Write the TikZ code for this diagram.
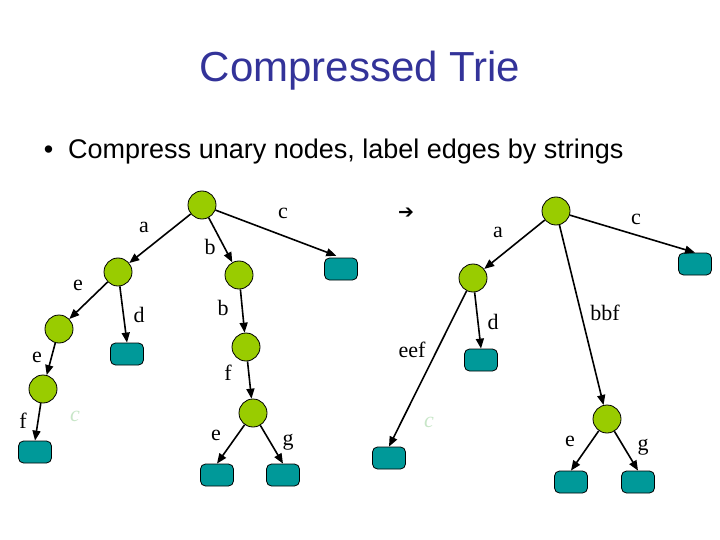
\documentclass[tikz,border=0pt]{standalone}
\usepackage{fontspec}
\setmainfont{Liberation Serif}
\newfontfamily\slidefont{Liberation Sans}
\newfontfamily\symfont{DejaVu Sans}
\usetikzlibrary{arrows.meta}

\definecolor{titleblue}{RGB}{51,51,153}
\definecolor{nodegreen}{RGB}{153,204,0}
\definecolor{leafteal}{RGB}{0,153,153}
\definecolor{palegreen}{RGB}{200,230,200}

\tikzset{
  inner/.style={draw, circle, fill=nodegreen, minimum size=28pt, inner sep=0pt, line width=0.8pt},
  leaf/.style={draw, rectangle, rounded corners=5pt, fill=leafteal, minimum width=33pt, minimum height=22pt, inner sep=0pt, line width=0.8pt},
  lab/.style={inner sep=0pt, font=\fontsize{22}{22}\selectfont},
  ghost/.style={lab, text=palegreen, font=\fontsize{22}{22}\selectfont\itshape},
}

\begin{document}
\begin{tikzpicture}[x=1pt,y=-1pt, >={Triangle[length=10pt,width=8pt]}, line width=1.6pt]
\useasboundingbox (0,0) rectangle (720,540);

\node[text=titleblue, font=\slidefont\fontsize{42}{42}\selectfont] (title) at (360,71) {Compressed Trie};
\node[anchor=base west, inner sep=0pt, font=\slidefont\fontsize{27}{27}\selectfont] (point) at (43,159) {\textbullet\hskip 15pt Compress unary nodes, label edges by strings};

% uncompressed trie
\node[inner] (r1) at (202,205) {};
\node[inner] (n1a) at (118,272) {};
\node[inner] (n1b) at (239,275) {};
\node[leaf] (l1c) at (341,269) {};
\node[inner] (n1ae) at (59,329) {};
\node[leaf] (l1ad) at (127,354) {};
\node[inner] (n1bb) at (246,347) {};
\node[inner] (n1aee) at (43,389) {};
\node[leaf] (l1f) at (35,452) {};
\node[inner] (n1bbf) at (253,413) {};
\node[leaf] (l1e) at (217,475) {};
\node[leaf] (l1g) at (283,475) {};

\draw[->] (r1) -- (n1a);
\draw[->] (r1) -- (n1b);
\draw[->, shorten >=5pt] (r1) -- (l1c.north);
\draw[->] (n1a) -- (n1ae);
\draw[->] (n1a) -- (l1ad.north);
\draw[->] (n1b) -- (n1bb);
\draw[->] (n1ae) -- (n1aee);
\draw[->] (n1aee) -- (l1f.north);
\draw[->] (n1bb) -- (n1bbf);
\draw[->] (n1bbf) -- (l1e.north);
\draw[->] (n1bbf) -- (l1g.north);

\node[lab] (t1a) at (144,227) {a};
\node[lab] (t1c) at (283,213) {c};
\node[lab] (t1b) at (210,247) {b};
\node[lab] (t1e) at (78,285) {e};
\node[lab] (t1d) at (139,315) {d};
\node[lab] (t1bb) at (223,308) {b};
\node[lab] (t1ee) at (37,357) {e};
\node[lab] (t1f) at (23,421) {f};
\node[lab] (t1bf) at (228,373) {f};
\node[lab] (t1le) at (216,435) {e};
\node[lab] (t1lg) at (288,442) {g};
\node[ghost] (t1x) at (75,416) {c};

\node[inner sep=0pt, font=\symfont\fontsize{19}{19}\selectfont] (goes) at (406,213) {➔};

% compressed trie
\node[inner] (r2) at (556,211) {};
\node[inner] (n2a) at (473,278) {};
\node[leaf] (l2c) at (695,264) {};
\node[leaf] (l2d) at (481,360) {};
\node[leaf] (l2eef) at (389,458) {};
\node[inner] (n2bbf) at (607,419) {};
\node[leaf] (l2e) at (571,482) {};
\node[leaf] (l2g) at (638,482) {};

\draw[->] (r2) -- (n2a);
\draw[->] (r2) -- (l2c.north);
\draw[->] (r2) -- (n2bbf);
\draw[->] (n2a) -- (l2d.north);
\draw[->] (n2a) -- (l2eef.north);
\draw[->] (n2bbf) -- (l2e.north);
\draw[->] (n2bbf) -- (l2g.north);

\node[lab] (t2a) at (498,232) {a};
\node[lab] (t2c) at (636,219) {c};
\node[lab] (t2d) at (493,322) {d};
\node[lab] (t2bbf) at (605,313) {bbf};
\node[lab] (t2eef) at (412,350) {eef};
\node[lab] (t2e) at (570,441) {e};
\node[lab] (t2g) at (643,447) {g};
\node[ghost] (t2x) at (429,422) {c};
\end{tikzpicture}
\end{document}
